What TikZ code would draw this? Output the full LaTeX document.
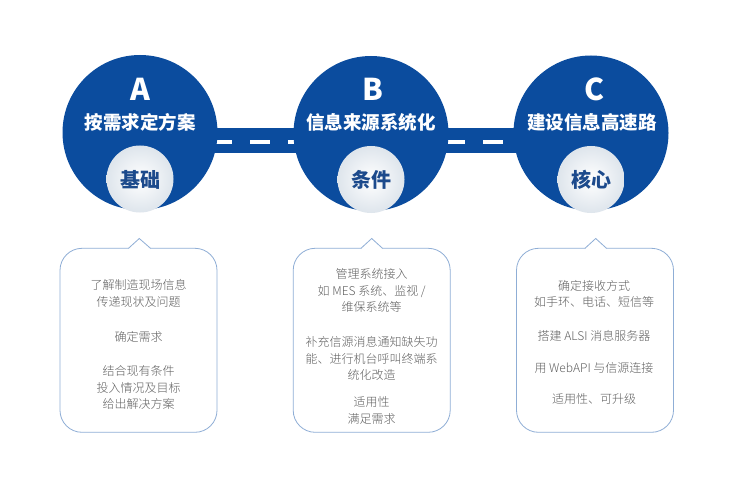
\documentclass[tikz,border=0pt]{standalone}
\usepackage{fontspec}
\setmainfont{Noto Sans CJK SC}
\newfontfamily\lightcjk{Noto Sans CJK SC Light}
\usetikzlibrary{calc}
\definecolor{mainblue}{RGB}{11,76,158}
\definecolor{subblue}{RGB}{28,74,140}
\definecolor{boxline}{RGB}{143,174,214}
\definecolor{bodygray}{RGB}{96,96,96}
\definecolor{subfill}{RGB}{222,229,236}
\newcommand\mynotch[3]{%
  \fill[white] (#1,249.2) -- (#2,238.5) -- (#3,249.2) -- cycle;
  \draw[boxedge] (#1,248.3) -- (#2,238.5) -- (#3,248.3);}
\begin{document}
\begin{tikzpicture}[x=1pt,y=-1pt,
  bigcirc/.style={circle,fill=mainblue,minimum size=155pt,inner sep=0pt,draw=none},
  smallcirc/.style={circle,inner color=white,outer color=subfill,minimum size=67pt,inner sep=0pt,draw=none},
  lettertext/.style={text=white,font=\fontsize{30}{30}\selectfont\bfseries,inner sep=0pt},
  titletext/.style={text=white,font=\fontsize{18.5}{18.5}\selectfont\bfseries,inner sep=0pt},
  subtext/.style={text=subblue,font=\fontsize{20}{20}\selectfont\bfseries,inner sep=0pt},
  boxedge/.style={draw=boxline,line width=0.8pt},
  infobox/.style={boxedge,fill=white,rounded corners=22pt,minimum width=157pt,minimum height=184pt,inner sep=0pt},
  bodytext/.style={text=bodygray,font=\lightcjk\fontsize{12}{16.5}\selectfont,align=center,inner sep=0pt}]
\useasboundingbox (0,0) rectangle (750,500);
\fill[white] (0,0) rectangle (750,500);
% centres
\coordinate (pA) at (140,132.5);
\coordinate (pB) at (371,133.5);
\coordinate (pC) at (591,133);
% road
\fill[mainblue] ($(pA)+(0,-4.5)$) rectangle ($(pC)+(0,20)$);
\foreach \a/\b in {213/232,250/270,288/307,446/465,483/503,520/539}
  \fill[white] (\a,140.5) rectangle (\b,144.5);
% circles
\node[bigcirc] (cA) at (pA) {};
\node[bigcirc] (cB) at (pB) {};
\node[bigcirc] (cC) at (pC) {};
\node[smallcirc] (scA) at (140,179) {};
\node[smallcirc] (scB) at (371,179.5) {};
\node[smallcirc] (scC) at (591,179.5) {};
\node[lettertext] (lA) at (140,89) {A};
\node[lettertext] (lB) at (373,89) {B};
\node[lettertext] (lC) at (594,89) {C};
\node[titletext] (tA) at (140,122.5) {按需求定方案};
\node[titletext] (tB) at (371,122.5) {信息来源系统化};
\node[titletext] (tC) at (592,122.5) {建设信息高速路};
\node[subtext] (sA) at (140,180) {基础};
\node[subtext] (sB) at (371,180) {条件};
\node[subtext] (sC) at (591,180) {核心};
% boxes
\node[infobox] (bA) at (138.5,340.3) {};
\node[infobox] (bB) at (371.7,340.3) {};
\node[infobox] (bC) at (595,340.3) {};
\mynotch{128.5}{139.3}{150.5}
\mynotch{361}{371.7}{382.5}
\mynotch{585}{595.7}{606.5}
% texts A
\node[bodytext] (a1) at (138.5,293.3) {了解制造现场信息\\传递现状及问题};
\node[bodytext] (a2) at (138.5,336.7) {确定需求};
\node[bodytext] (a3) at (138.5,387.5) {结合现有条件\\投入情况及目标\\给出解决方案};
% texts B
\node[bodytext] (b1) at (371.7,290.5) {管理系统接入\\如 MES 系统、监视 /\\维保系统等};
\node[bodytext] (b2) at (371.7,358.6) {补充信源消息通知缺失功\\能、进行机台呼叫终端系\\统化改造};
\node[bodytext] (b3) at (371.7,410.3) {适用性\\满足需求};
% texts C
\node[bodytext] (c1) at (594,293.8) {确定接收方式\\如手环、电话、短信等};
\node[bodytext] (c2) at (594,336) {搭建 ALSI 消息服务器};
\node[bodytext] (c3) at (594,368.3) {用 WebAPI 与信源连接};
\node[bodytext] (c4) at (594,399.3) {适用性、可升级};
\end{tikzpicture}
\end{document}
